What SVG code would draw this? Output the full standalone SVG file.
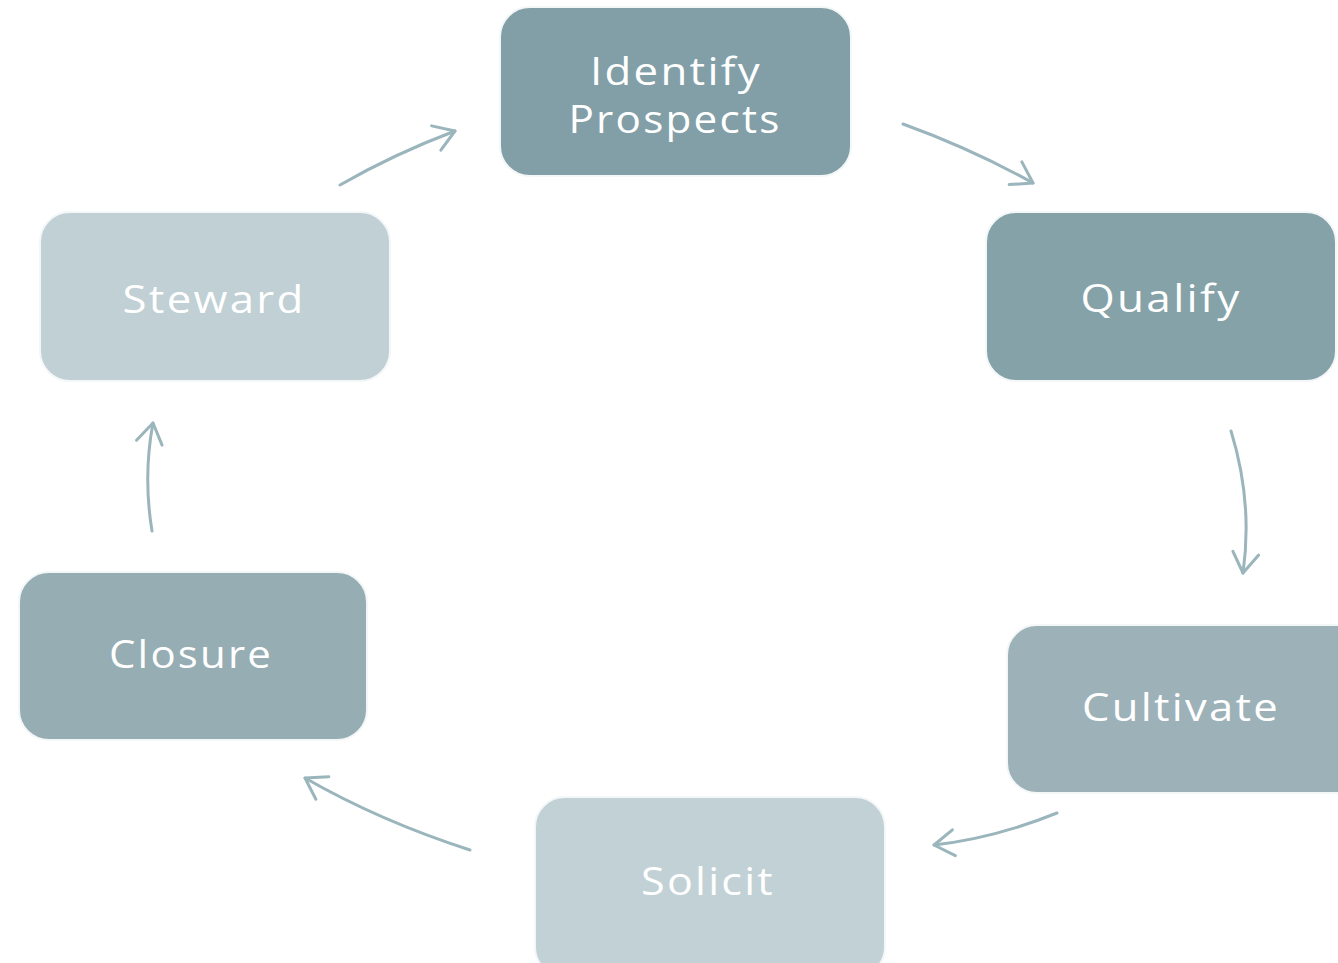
<svg xmlns="http://www.w3.org/2000/svg" width="1338" height="963" viewBox="0 0 1338 963">
  <style>
    .box { stroke: #f4f7f8; stroke-width: 2; }
    .label { font-family: "Open Sans", "Liberation Sans", sans-serif; font-size: 38px; fill: #ffffff; text-anchor: middle; letter-spacing: 2px; }
    .flow { fill: none; stroke: #9bb5bc; stroke-width: 3; stroke-linecap: round; marker-end: url(#head); }
  </style>
  <defs>
    <marker id="head" markerUnits="userSpaceOnUse" markerWidth="50" markerHeight="50" viewBox="-25 -25 50 50" refX="0" refY="0" orient="auto">
      <path d="M-20,-13 L0,0 L-20,13" fill="none" stroke="#9bb5bc" stroke-width="3" stroke-linecap="round" stroke-linejoin="round"/>
    </marker>
  </defs>
  <rect width="1338" height="963" fill="#ffffff"/>

  <g id="connectors">
    <path class="flow" d="M340,185 Q394,154 455,131"/>
    <path class="flow" d="M903,124 Q972,149 1033,183"/>
    <path class="flow" d="M1231,431 Q1253,502 1243,573"/>
    <path class="flow" d="M1057,813 Q995,838 934,845"/>
    <path class="flow" d="M470,850 Q380,821 305,778"/>
    <path class="flow" d="M152,531 Q143,476 153,423"/>
  </g>

  <g id="identify">
    <rect class="box" x="500" y="7" width="351" height="169" rx="30" fill="#829fa8"/>
    <text class="label" x="676" y="85" textLength="172" lengthAdjust="spacingAndGlyphs">Identify</text>
    <text class="label" x="675" y="133" textLength="213" lengthAdjust="spacingAndGlyphs">Prospects</text>
  </g>
  <g id="qualify">
    <rect class="box" x="986" y="212" width="350" height="169" rx="30" fill="#84a2a8"/>
    <text class="label" x="1161" y="312" textLength="161" lengthAdjust="spacingAndGlyphs">Qualify</text>
  </g>
  <g id="cultivate">
    <rect class="box" x="1007" y="625" width="360" height="168" rx="30" fill="#9db2b8"/>
    <text class="label" x="1181" y="721" textLength="198" lengthAdjust="spacingAndGlyphs">Cultivate</text>
  </g>
  <g id="solicit">
    <rect class="box" x="535" y="797" width="350" height="180" rx="30" fill="#c1d1d5"/>
    <text class="label" x="708" y="895" textLength="134" lengthAdjust="spacingAndGlyphs">Solicit</text>
  </g>
  <g id="closure">
    <rect class="box" x="19" y="572" width="348" height="168" rx="30" fill="#95adb3"/>
    <text class="label" x="191" y="668" textLength="164" lengthAdjust="spacingAndGlyphs">Closure</text>
  </g>
  <g id="steward">
    <rect class="box" x="40" y="212" width="350" height="169" rx="30" fill="#c0d0d4"/>
    <text class="label" x="214" y="313" textLength="183" lengthAdjust="spacingAndGlyphs">Steward</text>
  </g>
</svg>
